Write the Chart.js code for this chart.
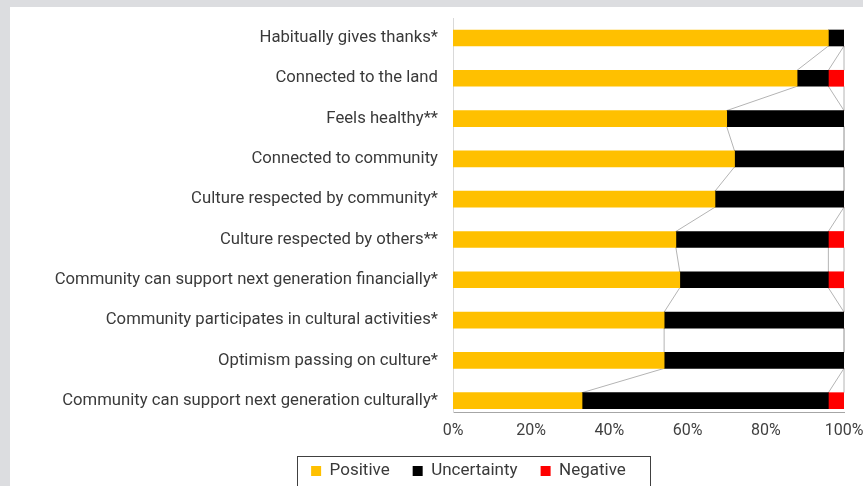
<!DOCTYPE html>
<html>
<head>
<meta charset="utf-8">
<script src="https://cdn.jsdelivr.net/npm/chart.js@4"></script>
<style>
  body { margin: 0; background: #dcdde0; }
  #panel { position: absolute; left: 10px; top: 7px; right: 0; bottom: 0; background: #fff; }
  #wrap { position: absolute; left: 0; top: 0; width: 863px; height: 486px; overflow: hidden; }
</style>
</head>
<body>
<div id="panel"></div>
<div id="wrap"><canvas id="mychart" width="863" height="486"></canvas></div>
<script>
var categories = [
  'Habitually gives thanks*',
  'Connected to the land',
  'Feels healthy**',
  'Connected to community',
  'Culture respected by community*',
  'Culture respected by others**',
  'Community can support next generation financially*',
  'Community participates in cultural activities*',
  'Optimism passing on culture*',
  'Community can support next generation culturally*'
];
var positive    = [96, 88, 70, 72, 67, 57, 58, 54, 54, 33];
var uncertainty = [4, 8, 30, 28, 33, 39, 38, 46, 46, 63];
var negative    = [0, 4, 0, 0, 0, 4, 4, 0, 0, 4];
var xTicks = [0, 20, 40, 60, 80, 100];

var legendShift = 26.5;

// Excel style series lines between the bars, plus the legend frame
var seriesLines = {
  id: 'seriesLines',
  afterUpdate: function(chart) {
    // legend sits a bit right of the canvas centre in the original
    chart.legend.left += legendShift;
    chart.legend.right += legendShift;
  },
  beforeDatasetsDraw: function(chart) {
    var ctx = chart.ctx;
    ctx.save();
    ctx.strokeStyle = '#b4b4b4';
    ctx.lineWidth = 1;
    chart.data.datasets.forEach(function(ds, d) {
      var bars = chart.getDatasetMeta(d).data;
      for (var i = 0; i < bars.length - 1; i++) {
        var a = bars[i], b = bars[i + 1];
        ctx.beginPath();
        ctx.moveTo(a.x, a.y + a.height / 2);
        ctx.lineTo(b.x, b.y - b.height / 2);
        ctx.stroke();
      }
    });
    ctx.restore();
  },
  afterDraw: function(chart) {
    var legend = chart.legend;
    var hb = legend.legendHitBoxes;
    if (!hb || !hb.length) return;
    var pad = legend.options.labels.padding;
    var total = 0;
    hb.forEach(function(h) { total += h.width; });
    total += pad * (hb.length - 1);
    var centre = (legend.left + legend.right) / 2;
    var ctx = chart.ctx;
    ctx.save();
    ctx.strokeStyle = '#404040';
    ctx.lineWidth = 1;
    var left = Math.round(centre - total / 2 - 14) + 0.5;
    var right = Math.round(centre + total / 2 + 24) + 0.5;
    var top = Math.round(hb[0].top - 7) + 0.5;
    ctx.strokeRect(left, top, right - left, 60);
    ctx.restore();
  }
};

var ctx = document.getElementById('mychart');

var barGraph = new Chart(ctx, {
  type: 'bar',
  data: {
    labels: categories,
    datasets: [
      { label: 'Positive', data: positive, backgroundColor: '#ffc000', barThickness: 16 },
      { label: 'Uncertainty', data: uncertainty, backgroundColor: '#000000', barThickness: 16 },
      { label: 'Negative', data: negative, backgroundColor: '#ff0000', barThickness: 16 }
    ]
  },
  options: {
    indexAxis: 'y',
    responsive: false,
    animation: false,
    layout: { padding: { left: 40, right: 19, top: 18, bottom: -3.5 } },
    scales: {
      x: {
        stacked: true,
        min: 0,
        max: 100,
        afterBuildTicks: function(scale) {
          scale.ticks = xTicks.map(function(v) { return { value: v }; });
        },
        afterFit: function(scale) {
          scale.height = 27.5;
          scale.paddingLeft = 0;
          scale.paddingRight = 0;
        },
        grid: { display: false, drawTicks: false },
        border: { display: true, color: '#a6a6a6', width: 1 },
        ticks: {
          padding: 9,
          color: '#404040',
          font: { family: 'Roboto', size: 16 },
          callback: function(v) { return v + '%'; }
        }
      },
      y: {
        stacked: true,
        afterBuildTicks: function(scale) {
          // category rows are 40.3px apart with a short gap under the last bar
          scale._startValue = -0.496;
          scale._valueRange = 9.777;
        },
        afterFit: function(scale) {
          scale.width = 413;
          scale.paddingTop = 0;
          scale.paddingBottom = 0;
        },
        grid: { display: false, drawTicks: false },
        border: { display: true, color: '#d9d9d9', width: 1 },
        ticks: {
          padding: 15,
          color: '#3a3a3a',
          font: { family: 'Roboto', size: 16.7 }
        }
      }
    },
    plugins: {
      legend: {
        position: 'bottom',
        labels: {
          boxWidth: 10,
          boxHeight: 10,
          padding: 23,
          color: '#3a3a3a',
          font: { family: 'Roboto', size: 17 }
        }
      },
      tooltip: { enabled: false }
    }
  },
  plugins: [seriesLines]
});
</script>
</body>
</html>
